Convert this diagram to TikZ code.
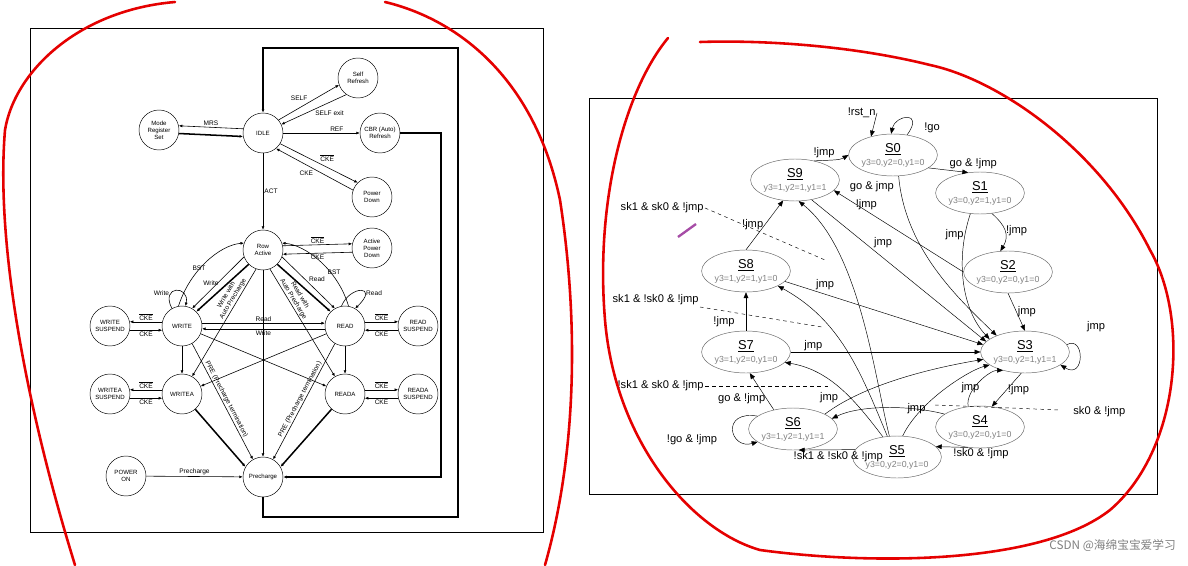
\documentclass[tikz,border=0pt]{standalone}
\usepackage{fontspec}
\setmainfont{Liberation Sans}
\newfontfamily\cjk{Noto Sans CJK SC}
\usetikzlibrary{arrows.meta,shapes.geometric}
\begin{document}
\begin{tikzpicture}[x=0.03cm,y=-0.03cm,
 st/.style={circle,draw,minimum size=40*0.03cm,inner sep=0pt,font=\fontsize{5.2}{6}\selectfont,align=center},
 lab/.style={font=\fontsize{5.6}{6.5}\selectfont,inner sep=1pt},
 e/.style={-{Latex[length=3pt,width=2.5pt]},line width=0.5pt},
 tk/.style={-{Latex[length=3pt,width=2.5pt]},line width=1.3pt},
 es/.style={ellipse,draw=gray!80!black,minimum width=84*0.03cm,minimum height=42*0.03cm,inner sep=0pt,align=center},
 rl/.style={font=\fontsize{9.5}{11}\selectfont,inner sep=1pt},
 re/.style={-{Triangle[length=5pt,width=4pt]},line width=0.4pt},
 red/.style={draw=red!90!black,line width=2.2pt,line cap=round}]
\useasboundingbox (0,0) rectangle (1188,565);
\fill[white] (0,0) rectangle (1188,565);
\newcommand{\sx}[2]{\underline{\fontsize{11}{12}\selectfont #1}\\[-1pt]{\color{gray}\fontsize{7.5}{8}\selectfont #2}}
\newcommand{\nck}{$\overline{\mbox{CKE}}$}
% ---------- left panel
\draw[line width=0.8pt] (30,28) rectangle (543,532);
\node[st] (idle) at (263,133) {IDLE};
\node[st] (self) at (358,78) {Self\\Refresh};
\node[st] (mrs) at (159,130) {Mode\\Register\\Set};
\node[st] (cbr) at (380,133) {CBR (Auto)\\Refresh};
\node[st] (pd) at (372,197) {Power\\Down};
\node[st] (row) at (263,250) {Row\\Active};
\node[st] (apd) at (372,248) {Active\\Power\\Down};
\node[st] (wr) at (182,326) {WRITE};
\node[st] (rd) at (345,326) {READ};
\node[st] (ws) at (110,326) {WRITE\\SUSPEND};
\node[st] (rs) at (418,326) {READ\\SUSPEND};
\node[st] (wa) at (182,394) {WRITEA};
\node[st] (ra) at (345,394) {READA};
\node[st] (was) at (110,394) {WRITEA\\SUSPEND};
\node[st] (ras) at (418,394) {READA\\SUSPEND};
\node[st] (pon) at (126,476) {POWER\\ON};
\node[st] (pre) at (263,477) {Precharge};
\draw[e] (idle.40) -- node[lab,above left]{SELF} (self.200);
\draw[e] (self.235) -- node[lab,below right]{SELF exit} (idle.25);
\draw[e] (idle.168) -- node[lab,above]{MRS} (mrs.12);
\draw[tk] (mrs.-10) -- (idle.190);
\draw[e] (idle) -- node[lab,above,pos=0.7]{REF} (cbr);
\draw[e] (idle.-32) -- node[lab,above right]{\nck} (pd.135);
\draw[e] (pd.160) -- node[lab,below left]{CKE} (idle.-50);
\draw[e] (idle) -- node[lab,right]{ACT} (row);
\draw[e] (row.12) -- node[lab,above]{\nck} (apd.168);
\draw[e] (apd.192) -- node[lab,below]{CKE} (row.-12);
\draw[e] (wr.100) .. controls (190,270) and (220,245) .. (row.160);
\node[lab] at (199,268) {BST};
\draw[e] (rd.80) .. controls (338,270) and (306,245) .. (row.20);
\node[lab] at (334,272) {BST};
\draw[e] (row.200) -- (wr.60); \node[lab] at (211,283) {Write};
\draw[tk] (row.225) -- (wr.45);
\draw[e] (row.340) -- (rd.120); \node[lab] at (317,279) {Read};
\draw[tk] (row.315) -- (rd.135);
\draw[e] (wr.120) .. controls (160,285) and (190,285) .. node[lab,left,pos=0.3]{Write} (wr.80);
\draw[e] (rd.100) .. controls (350,285) and (380,285) .. node[lab,right,pos=0.7]{Read} (rd.60);
\foreach \a/\b in {wr/ws,wa/was}{
 \draw[e] (\a.168) -- node[lab,above]{\nck} (\b.12);
 \draw[e] (\b.-12) -- node[lab,below]{CKE} (\a.192);}
\foreach \a/\b in {rd/rs,ra/ras}{
 \draw[e] (\a.12) -- node[lab,above]{\nck} (\b.168);
 \draw[e] (\b.192) -- node[lab,below]{CKE} (\a.-12);}
\draw[e] (wr.8) -- node[lab,above]{Read} (rd.172);
\draw[e] (rd.188) -- node[lab,below]{Write} (wr.-8);
\draw[e] (wr) -- (wa); \draw[e] (rd) -- (ra);
\draw[e] (wr) -- (ra); \draw[e] (rd) -- (wa);
\draw[e] (row.250) -- node[lab,sloped,above,pos=0.3,align=center]{Write with\\Auto Precharge} (wa.60);
\draw[e] (row.290) -- node[lab,sloped,above,pos=0.3,align=center]{Read with\\Auto Precharge} (ra.120);
\draw[e] (row) -- (pre);
\draw[e] (wr.-60) -- node[lab,sloped,above,pos=0.5]{PRE (Precharge termination)} (pre.120);
\draw[e] (rd.-120) -- node[lab,sloped,above,pos=0.5]{PRE (Precharge termination)} (pre.60);
\draw[tk] (wa) -- (pre.150); \draw[tk] (ra) -- (pre.30);
\draw[e] (pon) -- node[lab,above]{Precharge} (pre);
\draw[tk] (pre.south) -- (263,517) -- (458,517) -- (458,48) -- (263,48) -- (idle.north);
\draw[tk] (cbr.east) -- (441,133) -- (441,477) -- (pre.east);
% ---------- right panel
\draw[line width=0.8pt] (589,98) rectangle (1157,494);
\node[es] (s0) at (893,155) {\sx{S0}{y3=0,y2=0,y1=0}};
\node[es] (s9) at (795,180) {\sx{S9}{y3=1,y2=1,y1=1}};
\node[es] (s1) at (980,193) {\sx{S1}{y3=0,y2=1,y1=0}};
\node[es] (s8) at (746,271) {\sx{S8}{y3=1,y2=1,y1=0}};
\node[es] (s2) at (1008,272) {\sx{S2}{y3=0,y2=0,y1=0}};
\node[es] (s7) at (746,352) {\sx{S7}{y3=1,y2=0,y1=0}};
\node[es] (s3) at (1025,352) {\sx{S3}{y3=0,y2=1,y1=1}};
\node[es] (s6) at (793,429) {\sx{S6}{y3=1,y2=1,y1=1}};
\node[es] (s4) at (980,427) {\sx{S4}{y3=0,y2=0,y1=0}};
\node[es] (s5) at (897,457) {\sx{S5}{y3=0,y2=0,y1=0}};
\coordinate (rst) at (877,113);
\draw[re] (rst) -- (s0.140); \node[rl,left] at (rst) {!rst\_n};
\draw[re] (s0.55) .. controls (925,110) and (895,115) .. (s0.95); \node[rl] at (932,128) {!go};
\draw[re] (s0.-20) -- node[rl,above right]{go \& !jmp} (s1.120);
\draw[re] (s0.-75) .. controls (905,250) and (960,300) .. node[rl,pos=0.05,left=4pt]{go \& jmp} (s3.150);
\draw[re] (s1.-60) .. controls (1005,225) and (1010,235) .. node[rl,right]{!jmp} (s2.110);
\draw[re] (s1.-115) .. controls (955,260) and (962,310) .. node[rl,left,pos=0.15]{jmp} (s3.160);
\draw[re] (s2.west) -- node[rl,above,pos=0.75]{!jmp} (s9.-15);
\draw[re] (s2.south) -- node[rl,right]{jmp} (s3.north);
\draw[re] (s9.45) .. controls (835,160) and (840,160) .. node[rl,above left]{!jmp} (s0.west);
\draw[re] (s9.-50) -- node[rl,above right,pos=0.35]{jmp} (s3.165);
\draw[re] (s8.north) -- node[rl,left]{!jmp} (s9.-120);
\draw[re] (s8.-15) -- node[rl,above right,pos=0.15]{jmp} (s3.170);
\draw[re] (s5.110) .. controls (875,380) and (860,250) .. (s9.-80);
\draw[re] (s5.115) .. controls (860,370) and (840,320) .. (s8.-25);
\draw[re] (s5.125) .. controls (855,400) and (830,370) .. (s7.-15);
\draw[re] (s7.north) -- (s8.south); \node[rl] at (724,322) {!jmp};
\draw[re] (s7.east) -- node[rl,above,pos=0.12]{jmp} (s3.west);
\draw[re] (s6.135) -- node[rl,left,pos=0.3]{go \& !jmp} (s7.-80);
\draw[re] (s6.160) .. controls (720,410) and (730,450) .. (s6.200); \node[rl] at (692,440) {!go \& !jmp};
\draw[re] (s6.25) .. controls (870,380) and (950,365) .. node[rl,pos=0.1,above left]{jmp} (s3.190);
\draw[re] (s3.10) .. controls (1085,335) and (1085,380) .. (s3.-20); \node[rl] at (1096,327) {jmp};
\draw[re] (s3.-100) -- node[rl,right]{!jmp} (s4.60);
\draw[re] (s4.160) .. controls (910,405) and (860,405) .. (s6.15);
\draw[re] (s4.120) .. controls (965,390) and (990,370) .. node[rl,above,pos=0.25]{jmp} (s3.220);
\draw[re] (s4.-120) -- node[rl,below right]{!sk0 \& !jmp} (s5.15);
\draw[re] (s5.170) -- node[rl,below,pos=0.3]{!sk1 \& !sk0 \& !jmp} (s6.-75);
\draw[re] (s5.75) .. controls (920,400) and (970,370) .. node[rl,above,pos=0.2]{jmp} (s3.200);
\draw[dashed] (705,208) -- (825,260); \node[rl,left] at (705,208) {sk1 \& sk0 \& !jmp};
\draw[dashed] (700,307) -- (822,327); \node[rl,left] at (700,300) {sk1 \& !sk0 \& !jmp};
\draw[dashed] (705,386) -- (830,386); \node[rl,left] at (705,386) {!sk1 \& sk0 \& !jmp};
\draw[dashed] (935,405) -- (1060,410); \node[rl,right] at (1072,412) {sk0 \& !jmp};
\draw[violet!70,line width=2pt] (678,237) -- (696,224);
% ---------- red marker
\draw[red] (175,2) .. controls (80,10) and (15,70) .. (5,130) .. controls (-5,250) and (30,420) .. (75,565);
\draw[red] (385,2) .. controls (460,20) and (535,80) .. (560,200) .. controls (580,330) and (575,460) .. (545,565);
\draw[red] (668,38) .. controls (625,90) and (595,200) .. (605,320) .. controls (615,440) and (690,530) .. (760,550) .. controls (870,565) and (1040,565) .. (1110,510) .. controls (1180,450) and (1190,320) .. (1150,250) .. controls (1100,150) and (1000,80) .. (930,65) .. controls (850,45) and (760,40) .. (700,42);
\node[font=\cjk\fontsize{10}{12}\selectfont,text=gray,anchor=east] at (1180,546) {CSDN @海绵宝宝爱学习};
\end{tikzpicture}
\end{document}
